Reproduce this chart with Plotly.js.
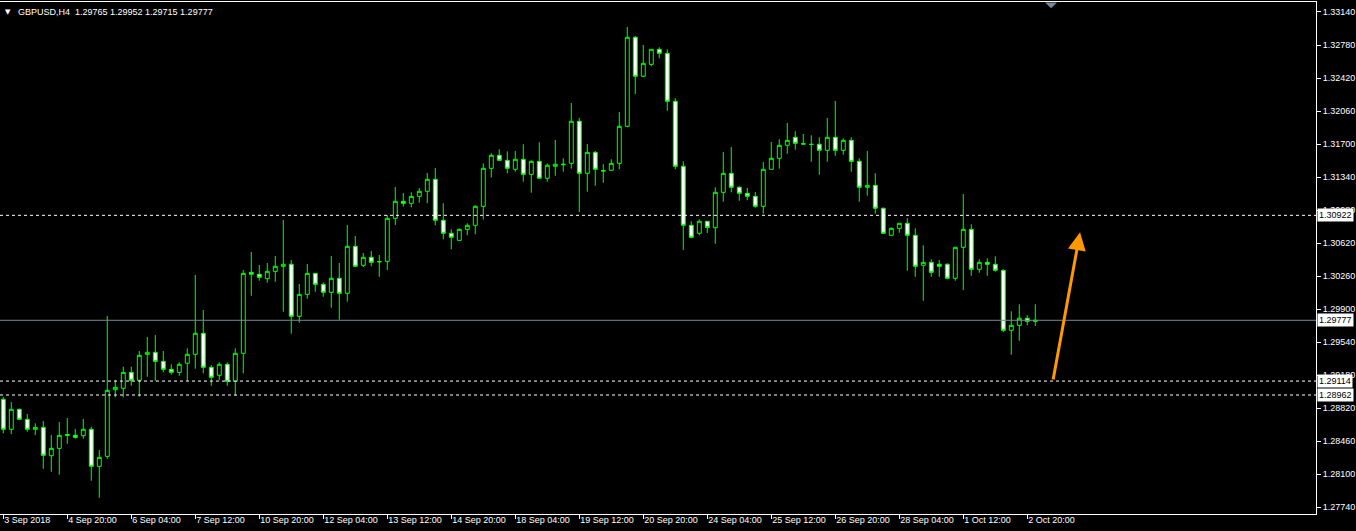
<!DOCTYPE html>
<html><head><meta charset="utf-8">
<script src="https://cdn.plot.ly/plotly-3.0.1.min.js"></script>
<style>html,body{margin:0;padding:0;background:#000;overflow:hidden}#chart{width:1356px;height:531px}</style>
</head><body><div id="chart"></div>
<script>
const symbolName = 'GBPUSD,H4';
const timeLabels = ['3 Sep 2018','4 Sep 20:00','6 Sep 04:00','7 Sep 12:00','10 Sep 20:00','12 Sep 04:00','13 Sep 12:00','14 Sep 20:00','18 Sep 04:00','19 Sep 12:00','20 Sep 20:00','24 Sep 04:00','25 Sep 12:00','26 Sep 20:00','28 Sep 04:00','1 Oct 12:00','2 Oct 20:00'];
const labelEvery = 8;
const priceTicks = [1.27740,1.28100,1.28460,1.28820,1.29180,1.29540,1.29900,1.30260,1.30620,1.30980,1.31340,1.31700,1.32060,1.32420,1.32780,1.33140];

const openP = [1.28915,1.28588,1.28806,1.28697,1.28588,1.28609,1.28300,1.28380,1.28520,1.28522,
1.28518,1.28588,1.28184,1.28293,1.29020,1.29035,1.29209,1.29122,1.29406,1.29428,
1.29329,1.29242,1.29209,1.29308,1.29406,1.29635,1.29264,1.29177,1.29297,1.29111,
1.29417,1.30300,1.30279,1.30231,1.30311,1.30366,1.30388,1.29820,1.30060,1.30289,
1.30169,1.30082,1.30235,1.30071,1.30584,1.30377,1.30464,1.30413,1.30420,1.30889,
1.31075,1.31053,1.31129,1.31184,1.31315,1.30868,1.30726,1.30649,1.30769,1.30813,
1.31020,1.31435,1.31577,1.31522,1.31424,1.31533,1.31369,1.31511,1.31326,1.31457,
1.31474,1.31489,1.31948,1.31380,1.31609,1.31411,1.31413,1.31489,1.31893,1.32864,
1.32439,1.32569,1.32733,1.32689,1.32166,1.31457,1.30813,1.30726,1.30857,1.30787,
1.31173,1.31380,1.31228,1.31162,1.31129,1.31020,1.31424,1.31544,1.31686,1.31773,
1.31703,1.31697,1.31697,1.31631,1.31773,1.31631,1.31740,1.31511,1.31228,1.31249,
1.30999,1.30704,1.30780,1.30835,1.30704,1.30377,1.30409,1.30388,1.30388,1.30235,
1.30573,1.30769,1.30333,1.30409,1.30388,1.30322,1.29668,1.29722,1.29799,1.29765];

const highP = [1.28943,1.28885,1.28815,1.28755,1.28653,1.28678,1.28525,1.28667,1.28711,1.28591,
1.28700,1.28616,1.28362,1.29824,1.29125,1.29271,1.29271,1.29442,1.29595,1.29616,
1.29442,1.29297,1.29319,1.29471,1.30271,1.29889,1.29289,1.29319,1.29319,1.29471,
1.30325,1.30522,1.30380,1.30402,1.30478,1.30871,1.30435,1.30173,1.30391,1.30293,
1.30191,1.30478,1.30402,1.30816,1.30696,1.30511,1.30533,1.30489,1.30925,1.31231,
1.31165,1.31173,1.31220,1.31384,1.31438,1.31053,1.30769,1.30780,1.30835,1.31031,
1.31489,1.31599,1.31642,1.31620,1.31624,1.31697,1.31522,1.31719,1.31489,1.31744,
1.31544,1.32147,1.31984,1.31700,1.31624,1.31479,1.31533,1.32049,1.32976,1.32878,
1.32780,1.32733,1.32755,1.32733,1.32199,1.31511,1.30857,1.30879,1.30857,1.31228,
1.31613,1.31667,1.31239,1.31220,1.31176,1.31504,1.31722,1.31751,1.31929,1.31839,
1.31809,1.31795,1.31773,1.31984,1.32169,1.31762,1.31773,1.31544,1.31624,1.31380,
1.31007,1.30791,1.30835,1.30889,1.30780,1.30595,1.30442,1.30435,1.30399,1.30573,
1.31155,1.30824,1.30442,1.30453,1.30475,1.30333,1.29875,1.29951,1.29831,1.29952];

const lowP = [1.28544,1.28536,1.28689,1.28561,1.28525,1.28158,1.28125,1.28092,1.28430,1.28485,
1.28485,1.28027,1.27841,1.28267,1.28937,1.28937,1.29063,1.28943,1.29161,1.29115,
1.29209,1.29183,1.29172,1.29115,1.29249,1.29199,1.29063,1.29125,1.29063,1.28954,
1.29199,1.30045,1.30209,1.30187,1.30198,1.29871,1.29631,1.29751,1.30012,1.30089,
1.30034,1.29914,1.29783,1.29980,1.30366,1.30358,1.30366,1.30252,1.30325,1.30816,
1.31016,1.31009,1.31060,1.31053,1.30813,1.30660,1.30551,1.30649,1.30704,1.30715,
1.30876,1.31335,1.31522,1.31380,1.31398,1.31289,1.31169,1.31326,1.31289,1.31354,
1.31398,1.31431,1.30958,1.31180,1.31245,1.31278,1.31413,1.31424,1.31882,1.32245,
1.32428,1.32548,1.32635,1.32063,1.31424,1.30544,1.30671,1.30704,1.30729,1.30612,
1.31071,1.31173,1.31081,1.31086,1.31005,1.30940,1.31424,1.31431,1.31594,1.31638,
1.31697,1.31507,1.31365,1.31507,1.31572,1.31583,1.31398,1.31071,1.31136,1.30940,
1.30724,1.30702,1.30732,1.30318,1.30252,1.29991,1.30252,1.30252,1.30224,1.30209,
1.30107,1.30263,1.30296,1.30263,1.30307,1.29646,1.29401,1.29554,1.29722,1.29715];

const closeP = [1.28588,1.28806,1.28697,1.28588,1.28609,1.28304,1.28380,1.28522,1.28531,1.28500,
1.28588,1.28184,1.28282,1.29013,1.29046,1.29209,1.29122,1.29395,1.29428,1.29329,
1.29242,1.29209,1.29297,1.29406,1.29635,1.29264,1.29155,1.29297,1.29111,1.29417,
1.30289,1.30279,1.30246,1.30311,1.30366,1.30388,1.29820,1.30060,1.30289,1.30169,
1.30082,1.30235,1.30071,1.30584,1.30366,1.30464,1.30409,1.30418,1.30889,1.31075,
1.31053,1.31129,1.31184,1.31315,1.30868,1.30726,1.30682,1.30769,1.30813,1.31020,
1.31435,1.31577,1.31522,1.31435,1.31533,1.31369,1.31511,1.31326,1.31468,1.31479,
1.31479,1.31948,1.31380,1.31609,1.31424,1.31406,1.31489,1.31893,1.32864,1.32439,
1.32580,1.32733,1.32689,1.32166,1.31457,1.30813,1.30682,1.30857,1.30789,1.31173,
1.31380,1.31228,1.31162,1.31129,1.31020,1.31424,1.31544,1.31686,1.31740,1.31708,
1.31700,1.31695,1.31631,1.31773,1.31631,1.31740,1.31511,1.31228,1.31249,1.30999,
1.30726,1.30780,1.30835,1.30704,1.30366,1.30409,1.30300,1.30366,1.30235,1.30573,
1.30769,1.30333,1.30409,1.30388,1.30322,1.29668,1.29722,1.29799,1.29766,1.29777];

const levelLines = [1.30922, 1.29114, 1.28962];
const bidPrice = 1.29777;
const arrowFrom = [131.2, 1.29115];
const arrowTo = [134.6, 1.30737];

const n = openP.length;
const idx = openP.map((_, i) => i);
const tickPos = timeLabels.map((_, i) => i * labelEvery);
const last = n - 1;
const FONT = 'Liberation Sans, Arial, sans-serif';

const trace = {
  type: 'candlestick', x: idx, open: openP, high: highP, low: lowP, close: closeP,
  increasing: {line: {color: '#00ff00', width: 1}, fillcolor: '#000000'},
  decreasing: {line: {color: '#00ff00', width: 1}, fillcolor: '#ffffff'},
  whiskerwidth: 0, hoverinfo: 'skip', showlegend: false
};

const shapes = [];
levelLines.forEach(v => shapes.push({type:'line', xref:'paper', x0:0, x1:1, yref:'y', y0:v, y1:v,
  line:{color:'#ffffff', width:1, dash:'3px,3px'}}));
shapes.push({type:'line', xref:'paper', x0:0, x1:1, yref:'y', y0:bidPrice, y1:bidPrice,
  line:{color:'#778899', width:1}});
shapes.push({type:'path', xref:'paper', yref:'paper', path:'M 0.7941 0.999 L 0.8032 0.999 L 0.7987 0.988 Z',
  fillcolor:'#778899', line:{width:0}});

const annotations = [];
levelLines.concat([bidPrice]).forEach(v => annotations.push({
  xref:'paper', x:1, xanchor:'left', xshift:1, yref:'y', y:v, yanchor:'middle',
  text: v.toFixed(5), showarrow:false, bgcolor:'#ffffff', borderpad:1,
  font:{family:FONT, size:9, color:'#000000'}
}));
annotations.push({xref:'paper', yref:'paper', x:0, y:1, xanchor:'left', yanchor:'top', xshift:3, yshift:-4,
  text:'▼', showarrow:false, font:{family:'DejaVu Sans', size:7, color:'#ffffff'}});
annotations.push({xref:'paper', yref:'paper', x:0, y:1, xanchor:'left', yanchor:'top', xshift:16, yshift:-3,
  text: symbolName + '\u00a0\u00a0' + [openP[last], highP[last], lowP[last], closeP[last]].map(v => v.toFixed(5)).join(' '),
  showarrow:false, font:{family:FONT, size:9, color:'#ffffff'}});
annotations.push({xref:'x', yref:'y', axref:'x', ayref:'y', x:arrowTo[0], y:arrowTo[1], ax:arrowFrom[0], ay:arrowFrom[1],
  text:'', showarrow:true, arrowhead:2, arrowsize:1.2, arrowwidth:3, arrowcolor:'#ff9900', standoff:0});

const layout = {
  width:1356, height:531, paper_bgcolor:'#000000', plot_bgcolor:'#000000',
  margin:{l:0, r:40, t:2, b:17}, showlegend:false, dragmode:false,
  font:{family:FONT, size:9, color:'#ffffff'},
  xaxis:{range:[-0.41, 164.09], showgrid:false, zeroline:false, showline:true, mirror:true,
    linecolor:'#ffffff', linewidth:1, ticks:'outside', ticklen:4, tickcolor:'#ffffff', tickwidth:1,
    tickvals:tickPos, ticktext:timeLabels, ticklabelposition:'outside right', ticklabelstandoff:-3,
    tickfont:{family:FONT, size:9, color:'#ffffff'}, rangeslider:{visible:false}, fixedrange:true},
  yaxis:{side:'right', range:[1.27664, 1.33249], showgrid:false, zeroline:false, showline:true, mirror:true,
    linecolor:'#ffffff', linewidth:1, ticks:'outside', ticklen:4, tickcolor:'#ffffff', tickwidth:1,
    tickvals:priceTicks, ticktext:priceTicks.map(v => v.toFixed(5)), ticklabelstandoff:0,
    tickfont:{family:FONT, size:9, color:'#ffffff'}, fixedrange:true},
  shapes: shapes, annotations: annotations
};

Plotly.newPlot('chart', [trace], layout, {displayModeBar:false, staticPlot:true});
</script></body></html>
